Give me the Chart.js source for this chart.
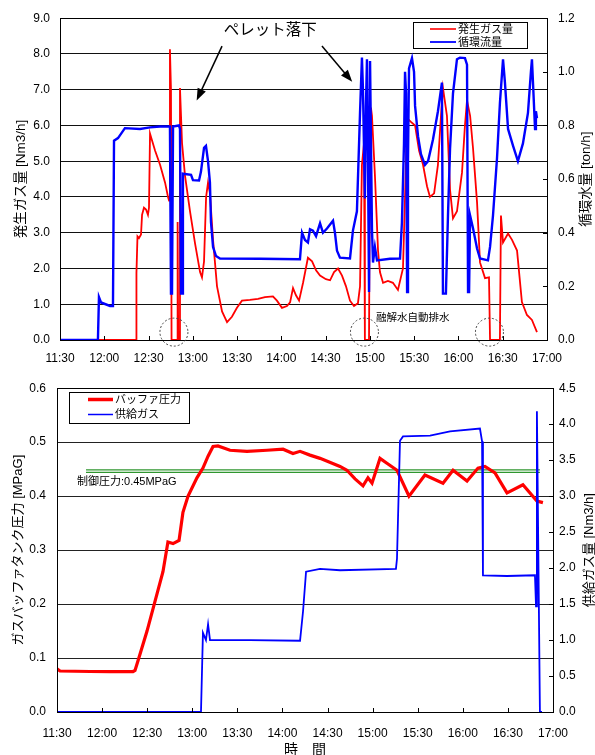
<!DOCTYPE html>
<html>
<head>
<meta charset="utf-8">
<script src="https://cdn.jsdelivr.net/npm/chart.js@4.4.0/dist/chart.umd.min.js"></script>
<style>
body { margin: 0; background: #fff; width: 595px; height: 755px; overflow: hidden; position: relative; }
#topChart { position: absolute; left: 0; top: 0; }
#botChart { position: absolute; left: 0; top: 370px; }
</style>
</head>
<body>
<canvas id="topChart" width="595" height="370"></canvas>
<canvas id="botChart" width="595" height="385"></canvas>
<script>
// time axis is minutes after midnight, 11:30 .. 17:00
const timeLabels = ['11:30', '12:00', '12:30', '13:00', '13:30', '14:00', '14:30', '15:00', '15:30', '16:00', '16:30', '17:00'];
const T_START = 690;
const T_END = 1020;

// upper chart: 発生ガス量 [Nm3/h]
const genGasT = [
  690, 741.5, 741.8, 742.5, 743.5, 744.9, 745.6, 746.9, 748.3, 749.6,
  750.3, 751.0, 754.4, 757.8, 761.2, 763.2, 763.9, 764.5, 765.2, 765.6,
  769.3, 769.7, 770.1, 770.9, 771.3, 772.7, 774.7, 778.1, 781.5, 784.9,
  786.2, 787.6, 789.0, 790.3, 791.6, 793.7, 796.4, 799.8, 803.2, 806.5,
  809.9, 813.3, 818.7, 824.2, 828.9, 834.3, 837.0, 840.4, 843.8, 845.9,
  847.9, 849.9, 852.0, 854.7, 858.0, 860.8, 863.5, 866.2, 870.2, 873.0,
  875.7, 878.4, 881.1, 883.8, 886.5, 889.2, 891.9, 893.3, 894.6, 896.0,
  896.6, 899.4, 900.1, 900.7, 901.4, 903.4, 905.5, 906.8, 908.9, 912.2,
  915.6, 919.0, 922.4, 923.8, 925.2, 927.8, 930.6, 933.3, 936.0, 938.7,
  940.7, 943.5, 946.1, 948.2, 949.5, 952.2, 954.3, 956.3, 959.0, 962.4,
  964.4, 965.8, 967.9, 969.9, 972.6, 974.6, 978.0, 980.7, 981.4, 988.1,
  988.8, 990.2, 993.6, 996.3, 999.7, 1003.0, 1006.4, 1009.8, 1013.2
];
const genGasV = [
  0, 0, 1.87, 2.9, 2.85, 2.95, 3.5, 3.7, 3.65, 3.5,
  3.7, 5.77, 5.3, 4.9, 4.4, 4.0, 3.9, 8.13, 7.0, 0,
  0, 3.3, 0, 0, 7.05, 5.5, 4.6, 3.6, 2.7, 1.9,
  1.75, 2.2, 4.0, 4.4, 4.1, 2.8, 1.5, 0.8, 0.5, 0.65,
  0.9, 1.1, 1.12, 1.15, 1.2, 1.22, 1.1, 0.9, 0.95, 1.05,
  1.45, 1.25, 1.1, 1.6, 2.3, 2.2, 1.95, 1.8, 1.7, 1.67,
  1.9, 2.0, 1.8, 1.5, 1.1, 0.95, 1.03, 1.5, 4.9, 5.5,
  0, 0, 6.0, 6.5, 6.27, 4.6, 2.5, 1.9, 1.6, 1.65,
  1.6, 1.4, 2.0, 4.0, 6.2, 6.1, 6.0, 5.3, 4.9, 4.3,
  4.0, 4.1, 4.9, 6.3, 7.05, 6.27, 4.2, 3.4, 3.6, 4.68,
  6.0, 6.7, 6.27, 5.35, 3.85, 2.17, 1.73, 1.75, 0, 0,
  3.48, 2.73, 2.98, 2.8, 2.5, 1.06, 0.7, 0.56, 0.22
];

// upper chart: 循環流量 [ton/h] (right axis)
const circT = [
  690, 715.7, 716.4, 717.8, 723.9, 725.9, 726.6, 729.3, 734.0, 744.2,
  751.0, 757.8, 764.5, 765.2, 765.9, 766.6, 770.6, 771.3, 772.0, 772.7,
  773.3, 778.8, 780.1, 784.2, 785.5, 787.6, 788.9, 790.3, 791.6, 792.3,
  793.7, 795.7, 798.4, 825.5, 852.6, 854.0, 856.0, 858.0, 859.4, 861.4,
  863.5, 866.2, 868.2, 870.9, 875.0, 876.3, 877.7, 879.7, 886.5, 888.5,
  891.2, 893.3, 894.6, 895.3, 896.6, 897.3, 898.0, 898.7, 899.4, 900.1,
  901.4, 902.1, 903.4, 904.8, 913.6, 920.4, 921.7, 923.1, 923.8, 924.5,
  925.2, 925.8, 926.5, 928.5, 929.9, 930.6, 932.6, 934.6, 937.3, 939.4,
  942.7, 946.1, 948.8, 949.5, 951.5, 952.9, 954.3, 956.3, 959.0, 961.0,
  964.4, 965.8, 966.5, 967.2, 967.9, 969.9, 972.6, 974.6, 980.0, 981.4,
  983.4, 986.1, 988.1, 990.2, 991.5, 993.6, 997.0, 1000.3, 1003.7, 1007.1,
  1009.1, 1009.8, 1010.5, 1011.9, 1012.5, 1013.2
];
const circV = [
  0, 0, 0.16, 0.14, 0.127, 0.127, 0.743, 0.753, 0.79, 0.787,
  0.793, 0.796, 0.796, 0.173, 0.173, 0.796, 0.80, 0.787, 0.173, 0.173,
  0.62, 0.616, 0.596, 0.595, 0.627, 0.717, 0.724, 0.667, 0.587, 0.44,
  0.347, 0.313, 0.304, 0.303, 0.301, 0.40, 0.373, 0.364, 0.413, 0.408,
  0.387, 0.435, 0.40, 0.416, 0.445, 0.40, 0.333, 0.307, 0.304, 0.408,
  0.48, 0.847, 1.053, 0.933, 0.528, 0.867, 1.047, 0.667, 0.179, 1.04,
  0.413, 0.289, 0.347, 0.297, 0.303, 0.304, 0.439, 0.733, 1.0, 0.92,
  0.179, 0.667, 1.013, 1.051, 1.0, 0.873, 0.76, 0.693, 0.653, 0.667,
  0.747, 0.853, 0.96, 0.173, 0.173, 0.464, 0.713, 0.92, 1.047, 1.053,
  1.051, 1.027, 0.179, 0.179, 0.464, 0.416, 0.341, 0.304, 0.297, 0.347,
  0.464, 0.676, 0.884, 1.047, 0.96, 0.787, 0.724, 0.667, 0.733, 0.847,
  1.0, 1.047, 0.96, 0.787, 0.853, 0.827
];

// lower chart: バッファ圧力 [MPaG]
const bufT = [
  690, 692, 712, 725.3, 740.6, 741.9, 743.9, 749.9, 755.2, 760.5,
  763.8, 767.2, 771.2, 773.8, 777.2, 783.1, 787.1, 790.5, 793.8, 797.1,
  805.1, 816.4, 829.7, 840.4, 847.0, 851.7, 858.3, 865.0, 878.3, 882.9,
  888.3, 893.6, 896.9, 899.6, 904.9, 909.5, 916.2, 924.2, 934.8, 946.8,
  953.5, 962.8, 970.1, 974.7, 981.4, 989.4, 1000.0, 1009.3, 1013.3
];
const bufV = [
  0.08, 0.076, 0.075, 0.075, 0.075, 0.077, 0.095, 0.15, 0.205, 0.26,
  0.315, 0.312, 0.318, 0.37, 0.40, 0.434, 0.452, 0.474, 0.492, 0.493,
  0.485, 0.483, 0.485, 0.487, 0.479, 0.483, 0.476, 0.47, 0.455, 0.448,
  0.432, 0.419, 0.434, 0.424, 0.47, 0.461, 0.448, 0.40, 0.439, 0.424,
  0.448, 0.428, 0.452, 0.455, 0.443, 0.406, 0.421, 0.391, 0.388
];

// lower chart: 供給ガス [Nm3/h] (right axis)
const feedT = [
  690, 785.8, 787.1, 789.1, 790.5, 791.8, 818.4, 851.7, 853.7, 855.7,
  865.0, 878.3, 915.5, 916.2, 918.2, 920.2, 938.2, 951.5, 971.4, 972.8,
  973.4, 989.4, 1008.0, 1008.7, 1009.3, 1011.3, 1012.7
];
const feedV = [
  0, 0, 1.1, 1.0, 1.22, 1.0, 1.0, 0.99, 1.4, 1.95,
  1.99, 1.97, 1.99, 2.13, 3.77, 3.83, 3.84, 3.9, 3.94, 3.76,
  1.9, 1.89, 1.9, 1.47, 4.18, 0, 0
];

// control pressure reference (drawn as a double green line)
const ctrlT = [709.3, 1011.3];
const ctrlUpper = [0.4488, 0.4488];
const ctrlLower = [0.4442, 0.4442];

const FONT = "'Liberation Sans', 'Noto Sans CJK JP', sans-serif";

function toPts(ts, vs) {
    return ts.map((t, i) => ({ x: t, y: vs[i] }));
}

function fixWidth(w) { return s => { s.width = w; }; }
function fixHeight(h) { return s => { s.height = h; }; }

function vText(ctx, text, x, y, size) {
    ctx.save();
    ctx.translate(x, y);
    ctx.rotate(-Math.PI / 2);
    ctx.font = size + 'px ' + FONT;
    ctx.textAlign = 'center';
    ctx.textBaseline = 'middle';
    ctx.fillStyle = '#000';
    ctx.fillText(text, 0, 0);
    ctx.restore();
}

function arrow(ctx, x1, y1, x2, y2) {
    const ang = Math.atan2(y2 - y1, x2 - x1);
    const len = 12, half = 4.5;
    ctx.strokeStyle = '#000';
    ctx.fillStyle = '#000';
    ctx.lineWidth = 1.5;
    ctx.beginPath();
    ctx.moveTo(x1, y1);
    ctx.lineTo(x2 - Math.cos(ang) * len * 0.7, y2 - Math.sin(ang) * len * 0.7);
    ctx.stroke();
    ctx.beginPath();
    ctx.moveTo(x2, y2);
    ctx.lineTo(x2 - len * Math.cos(ang) + half * Math.sin(ang), y2 - len * Math.sin(ang) - half * Math.cos(ang));
    ctx.lineTo(x2 - len * Math.cos(ang) - half * Math.sin(ang), y2 - len * Math.sin(ang) + half * Math.cos(ang));
    ctx.closePath();
    ctx.fill();
}

function drawLegend(ctx, box, rows, datasets) {
    ctx.fillStyle = '#fff';
    ctx.fillRect(box.x, box.y, box.w, box.h);
    ctx.strokeStyle = '#000';
    ctx.lineWidth = 1;
    ctx.strokeRect(box.x + 0.5, box.y + 0.5, box.w, box.h);
    const items = datasets.filter(d => d.legendWidth);
    items.forEach((d, i) => {
        const y = rows[i];
        ctx.strokeStyle = d.borderColor;
        ctx.lineWidth = d.legendWidth;
        ctx.beginPath();
        ctx.moveTo(box.lineX1, y);
        ctx.lineTo(box.lineX2, y);
        ctx.stroke();
        ctx.fillStyle = '#000';
        ctx.font = '11px ' + FONT;
        ctx.textAlign = 'left';
        ctx.textBaseline = 'middle';
        ctx.fillText(d.label, box.textX, y + 0.5);
    });
}

// frame, inward tick marks, titles, legend and notes
function makeDecor(cfg) {
    return {
        id: 'decor',
        afterDraw(chart) {
            const ctx = chart.ctx;
            const a = chart.chartArea;
            const xs = chart.scales.x;
            const yl = chart.scales[cfg.leftAxis];
            const yr = chart.scales[cfg.rightAxis];
            ctx.save();
            ctx.strokeStyle = '#000';
            ctx.lineWidth = 1;
            ctx.strokeRect(Math.round(a.left) + 0.5, Math.round(a.top) + 0.5,
                Math.round(a.right - a.left), Math.round(a.bottom - a.top));
            ctx.beginPath();
            xs.ticks.forEach(t => {
                const px = Math.round(xs.getPixelForValue(t.value)) + 0.5;
                ctx.moveTo(px, a.bottom);
                ctx.lineTo(px, a.bottom - 4);
            });
            yr.ticks.forEach(t => {
                const py = Math.round(yr.getPixelForValue(t.value)) + 0.5;
                ctx.moveTo(a.right, py);
                ctx.lineTo(a.right - 4, py);
            });
            ctx.stroke();

            vText(ctx, cfg.leftTitle, cfg.leftTitleX, (a.top + a.bottom) / 2, cfg.titleSize);
            vText(ctx, cfg.rightTitle, cfg.rightTitleX, (a.top + a.bottom) / 2, cfg.titleSize);
            if (cfg.xTitle) {
                ctx.font = '14px ' + FONT;
                ctx.fillStyle = '#000';
                ctx.textAlign = 'center';
                ctx.textBaseline = 'middle';
                ctx.fillText(cfg.xTitle, (a.left + a.right) / 2, cfg.xTitleY);
            }
            if (cfg.notes) cfg.notes(ctx, xs, yl);
            drawLegend(ctx, cfg.legendBox, cfg.legendRows, chart.data.datasets);
            ctx.restore();
        }
    };
}

function tickFont() {
    return { family: FONT, size: 12 };
}

// ---------- upper chart ----------
new Chart(document.getElementById('topChart'), {
    type: 'line',
    data: {
        datasets: [
            { label: '発生ガス量', data: toPts(genGasT, genGasV), yAxisID: 'y', borderColor: '#ff0000', borderWidth: 1.8, legendWidth: 1.6, order: 2 },
            { label: '循環流量', data: toPts(circT, circV), yAxisID: 'y2', borderColor: '#0000ff', borderWidth: 2.4, legendWidth: 1.8, order: 1 }
        ]
    },
    options: {
        responsive: false,
        animation: false,
        devicePixelRatio: 1,
        layout: { padding: { top: 17, left: 0, right: 0, bottom: 0 } },
        elements: { point: { radius: 0 }, line: { tension: 0, fill: false } },
        plugins: { legend: { display: false }, tooltip: { enabled: false } },
        scales: {
            x: {
                type: 'linear', min: T_START, max: T_END,
                afterFit: fixHeight(30),
                grid: { display: false, drawTicks: false }, border: { display: false },
                ticks: {
                    stepSize: 30, autoSkip: false, maxRotation: 0, padding: 11,
                    color: '#000', font: tickFont(),
                    callback: v => timeLabels[Math.round((v - T_START) / 30)]
                }
            },
            y: {
                position: 'left', min: 0, max: 9,
                afterFit: fixWidth(60),
                grid: { color: '#111', drawTicks: false }, border: { display: false },
                ticks: { stepSize: 1, padding: 10, color: '#000', font: tickFont(), callback: v => v.toFixed(1) }
            },
            y2: {
                position: 'right', min: 0, max: 1.2,
                afterFit: fixWidth(48),
                grid: { display: false, drawTicks: false }, border: { display: false },
                ticks: { stepSize: 0.2, padding: 11, color: '#000', font: tickFont(), callback: v => v.toFixed(1) }
            }
        }
    },
    plugins: [makeDecor({
        leftAxis: 'y', rightAxis: 'y2',
        leftTitle: '発生ガス量 [Nm3/h]', leftTitleX: 21,
        rightTitle: '循環水量 [ton/h]', rightTitleX: 586,
        titleSize: 13.5,
        legendBox: { x: 413, y: 22, w: 114, h: 26, lineX1: 430, lineX2: 456, textX: 458 },
        legendRows: [29, 42],
        notes(ctx, xs, ys) {
            const px = t => xs.getPixelForValue(t);
            const py = v => ys.getPixelForValue(v);
            ctx.fillStyle = '#000';
            ctx.font = '15.5px ' + FONT;
            ctx.textAlign = 'center';
            ctx.textBaseline = 'middle';
            ctx.fillText('ペレット落下', px(832.5), py(8.64));
            arrow(ctx, px(799.8), py(8.22), px(782.6), py(6.7));
            arrow(ctx, px(867.5), py(8.22), px(888.0), py(7.22));
            ctx.strokeStyle = '#444';
            ctx.lineWidth = 1;
            ctx.setLineDash([2, 2]);
            [767.2, 896.3, 981.0].forEach(t => {
                ctx.beginPath();
                ctx.arc(px(t), py(0.22), 14, 0, Math.PI * 2);
                ctx.stroke();
            });
            ctx.setLineDash([]);
            ctx.fillStyle = '#000';
            ctx.font = '10.5px ' + FONT;
            ctx.textAlign = 'left';
            ctx.fillText('融解水自動排水', px(904.1), py(0.61));
        }
    })]
});

// ---------- lower chart ----------
new Chart(document.getElementById('botChart'), {
    type: 'line',
    data: {
        datasets: [
            { label: 'バッファ圧力', data: toPts(bufT, bufV), yAxisID: 'y', borderColor: '#ff0000', borderWidth: 3.2, legendWidth: 3.5, order: 2 },
            { label: '供給ガス', data: toPts(feedT, feedV), yAxisID: 'y2', borderColor: '#0000ff', borderWidth: 1.8, legendWidth: 1.5, order: 1 },
            { label: 'ctrlA', data: toPts(ctrlT, ctrlUpper), yAxisID: 'y', borderColor: '#2f962f', borderWidth: 1.3, order: 3 },
            { label: 'ctrlB', data: toPts(ctrlT, ctrlLower), yAxisID: 'y', borderColor: '#2f962f', borderWidth: 1.3, order: 3 }
        ]
    },
    options: {
        responsive: false,
        animation: false,
        devicePixelRatio: 1,
        layout: { padding: { top: 14, left: 0, right: 0, bottom: 0 } },
        elements: { point: { radius: 0 }, line: { tension: 0, fill: false } },
        plugins: { legend: { display: false }, tooltip: { enabled: false } },
        scales: {
            x: {
                type: 'linear', min: T_START, max: T_END,
                afterFit: fixHeight(43),
                grid: { display: false, drawTicks: false }, border: { display: false },
                ticks: {
                    stepSize: 30, autoSkip: false, maxRotation: 0, padding: 14,
                    color: '#000', font: tickFont(),
                    callback: v => timeLabels[Math.round((v - T_START) / 30)]
                }
            },
            y: {
                position: 'left', min: 0, max: 0.6,
                afterFit: fixWidth(57),
                grid: { color: '#222', drawTicks: false }, border: { display: false },
                ticks: { stepSize: 0.1, padding: 11, color: '#000', font: tickFont(), callback: v => v.toFixed(1) }
            },
            y2: {
                position: 'right', min: 0, max: 4.5,
                afterFit: fixWidth(42),
                grid: { display: false, drawTicks: false }, border: { display: false },
                ticks: { stepSize: 0.5, padding: 6, color: '#000', font: tickFont(), callback: v => v.toFixed(1) }
            }
        }
    },
    plugins: [makeDecor({
        leftAxis: 'y', rightAxis: 'y2',
        leftTitle: 'ガスバッファタンク圧力 [MPaG]', leftTitleX: 18,
        rightTitle: '供給ガス量 [Nm3/h]', rightTitleX: 589,
        titleSize: 13,
        xTitle: '時　間', xTitleY: 380,
        legendBox: { x: 69, y: 22, w: 120, h: 31, lineX1: 88, lineX2: 113, textX: 115 },
        legendRows: [29.5, 44.5],
        notes(ctx, xs, ys) {
            ctx.fillStyle = '#000';
            ctx.font = '11px ' + FONT;
            ctx.textAlign = 'left';
            ctx.textBaseline = 'middle';
            ctx.fillText('制御圧力:0.45MPaG', xs.getPixelForValue(703.3), ys.getPixelForValue(0.426));
        }
    })]
});
</script>
</body>
</html>
